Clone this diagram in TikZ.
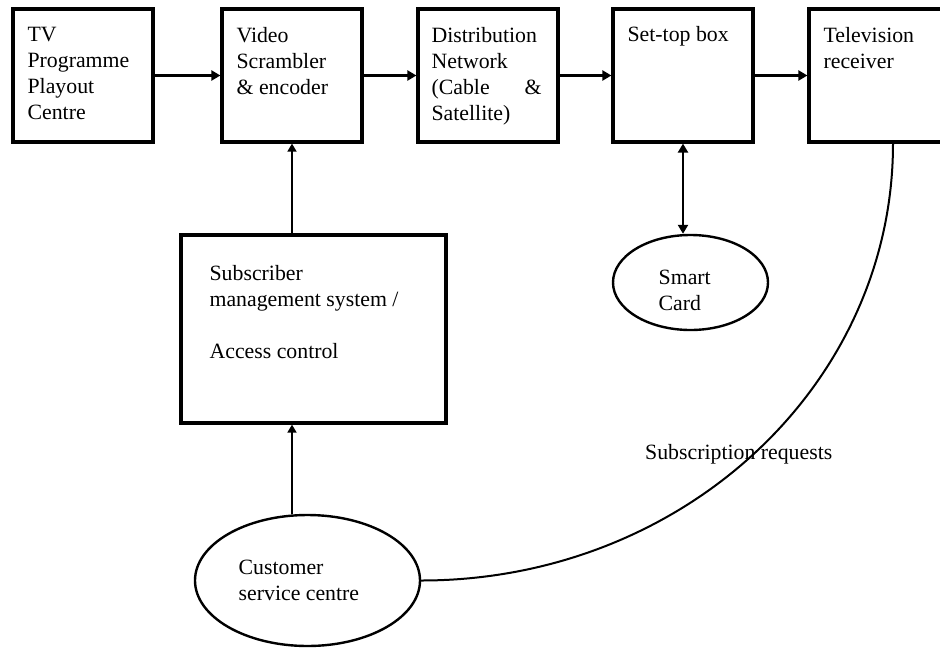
\documentclass[tikz,border=0pt]{standalone}
\usepackage{fontspec}
\setmainfont{Liberation Serif}
\usetikzlibrary{arrows.meta,shapes.geometric,calc}

\begin{document}
\begin{tikzpicture}[
  x=1pt,y=-1pt,
  blk/.style={draw,line width=3.2pt,minimum width=140pt,minimum height=133pt,inner sep=0pt},
  oval/.style={ellipse,draw,line width=2.4pt,inner sep=0pt},
  txt/.style={anchor=north west,inner sep=0pt,align=left,font=\fontsize{21.8}{26}\selectfont},
  arr/.style={-{Triangle[length=9pt,width=10pt]},line width=2.6pt},
  uparr/.style={-{Triangle[length=8pt,width=9pt]},line width=1.6pt},
  link/.style={line width=2pt}
]
\useasboundingbox (0,0) rectangle (940,648);

% -------------------------
% Top row: signal chain
% -------------------------
\node[blk] (tv) at (83,75.5) {};
\node[blk] (vid) at (292,75.5) {};
\node[blk] (dist) at (488,75.5) {};
\node[blk] (stb) at (683,75.5) {};
\node[blk,minimum width=168pt] (tvr) at (893,75.5) {};

\node[txt] at ([shift={(16,20)}]tv.north west) {TV\\Programme\\Playout\\Centre};
\node[txt] at ([shift={(16,20)}]vid.north west) {Video\\Scrambler\\\& encoder};
\node[txt,text width=110pt] at ([shift={(15,20)}]dist.north west)
  {Distribution\\Network\\(Cable\hfill\&\\Satellite)};
\node[txt] at ([shift={(16,19)}]stb.north west) {Set-top box};
\node[txt] at ([shift={(16,20)}]tvr.north west) {Television\\receiver};

\draw[arr] (tv) -- (vid);
\draw[arr] (vid) -- (dist);
\draw[arr] (dist) -- (stb);
\draw[arr] (stb) -- (tvr);

% -------------------------
% Lower part: management side
% -------------------------
\node[blk,minimum width=265pt,minimum height=188pt] (sms) at (313.5,329) {};
\node[txt] at ([shift={(30,32)}]sms.north west)
  {Subscriber\\management system /\\[26pt]Access control};

\node[oval,minimum width=155pt,minimum height=95pt] (card) at (690.5,282.5) {};
\node[txt] at ([shift={(-32,-13)}]card.center) {Smart\\Card};

\node[oval,minimum width=225pt,minimum height=131pt] (css) at (307.5,580.5) {};
\node[txt] at ([shift={(-69,-21)}]css.center) {Customer\\service centre};

\draw[uparr] (sms.north -| vid.south) -- (vid.south);
\draw[uparr] (css.north -| vid.south) -- (sms.south -| vid.south);
\draw[arr,{Triangle[length=9pt,width=10pt]}-{Triangle[length=9pt,width=10pt]}]
  (stb.south) -- (stb.south |- card.north);

% request path back from the receiver
\draw[link] (tvr.south) .. controls +(0,242) and +(261,0) .. (css.east);
\node[txt] (req) at (645,444) {Subscription requests};

\end{tikzpicture}
\end{document}
